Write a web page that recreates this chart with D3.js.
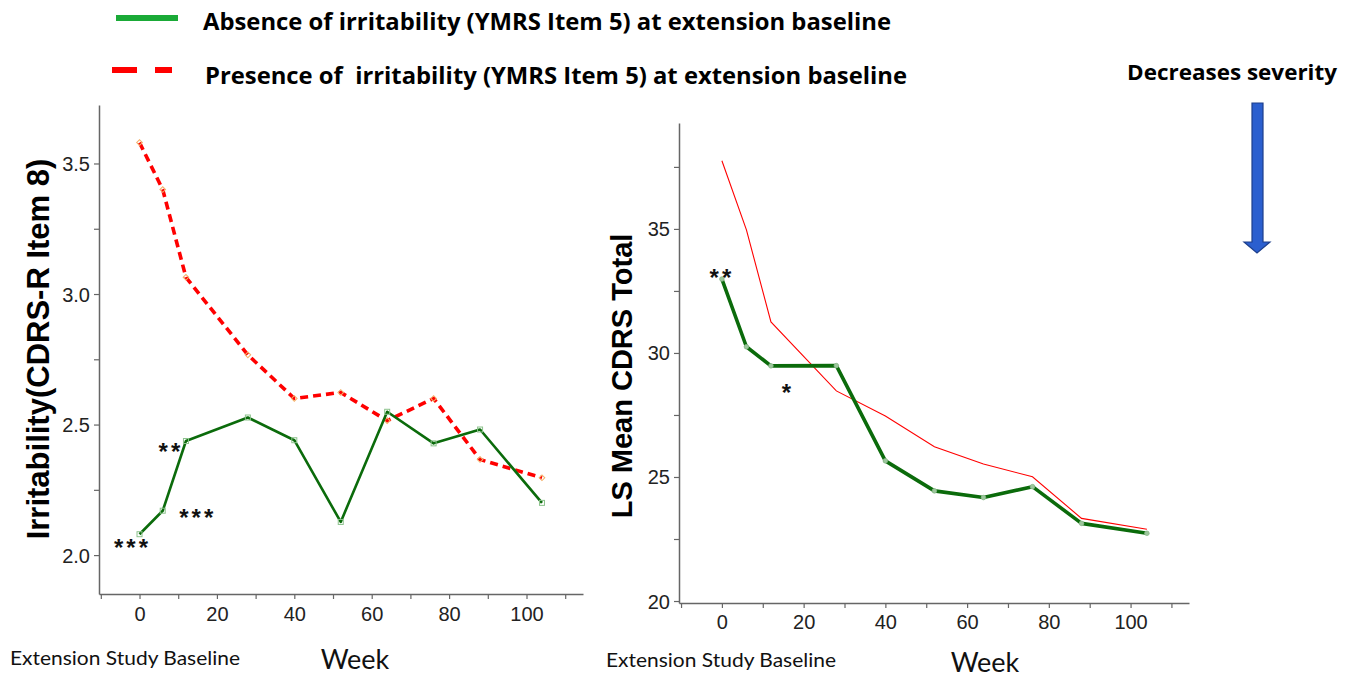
<!DOCTYPE html>
<html><head><meta charset="utf-8">
<script src="https://cdn.jsdelivr.net/npm/d3@7"></script>
<style>
html,body{margin:0;padding:0;background:#fff;}
svg{display:block;}
text{white-space:pre;}
</style></head>
<body><svg id="c" width="1356" height="679"></svg>
<script>
// ---- data ----
const weeks = [0, 6, 12, 28, 40, 52, 64, 76, 88, 104];
const irrAbsent  = [2.08, 2.17, 2.437, 2.527, 2.44, 2.127, 2.549, 2.428, 2.481, 2.20];
const irrPresent = [3.58, 3.40, 3.064, 2.767, 2.60, 2.623, 2.515, 2.60, 2.366, 2.296];
const cdrsAbsent  = [32.98, 30.25, 29.48, 29.49, 25.65, 24.44, 24.17, 24.61, 23.13, 22.73];
const cdrsPresent = [37.75, 34.96, 31.25, 28.47, 27.46, 26.22, 25.52, 25.01, 23.33, 22.89];
const xTickValues = [-10, 0, 10, 20, 30, 40, 50, 60, 70, 80, 90, 100, 110];
const xTickLabels = [0, 20, 40, 60, 80, 100];
const leftYTicks = [2.0, 2.5, 3.0, 3.5];
const leftYMinor = [2.25, 2.75, 3.25];
const rightYTicks = [20, 25, 30, 35];
const rightYMinor = [22.5, 27.5, 32.5, 37.5];
const legendLabels = ["Absence of irritability (YMRS Item 5) at extension baseline",
                      "Presence of  irritability (YMRS Item 5) at extension baseline"];
const leftTitle = "Irritability(CDRS-R Item 8)";
const rightTitle = "LS Mean CDRS Total";
const leftStars = [{w: 0, v: 2.08, t: "***"}, {w: 6, v: 2.17, t: "***"}, {w: 12, v: 2.437, t: "**"}];
const rightStars = [{w: 0, v: 32.98, t: "**"}, {w: 12, v: 29.48, t: "*"}];

const svg = d3.select("#c");
const AX = "#666";
const GREEN = "#0b6b0b";

function drawPanel(o) {
  const g = svg.append("g");
  const x = d3.scaleLinear().domain(o.xDom).range(o.xRange);
  const y = d3.scaleLinear().domain(o.yDom).range(o.yRange);
  // x axis
  const xa = g.append("g").attr("transform", `translate(0,${o.yRange[0]})`)
    .call(d3.axisBottom(x).tickValues(xTickValues).tickSize(5).tickSizeOuter(0)
      .tickFormat(d => xTickLabels.includes(d) ? d : ""));
  xa.select(".domain").attr("stroke", AX).attr("stroke-width", 1.5);
  xa.selectAll(".tick line").attr("stroke", AX).attr("stroke-width", 1.2);
  xa.selectAll(".tick text").attr("font-family", "Liberation Sans, Arial, sans-serif")
    .attr("font-size", 20).attr("fill", "#222").attr("dy", null).attr("y", o.xLabelDy);
  // y axis
  const ya = g.append("g").attr("transform", `translate(${o.xRange[0]},0)`)
    .call(d3.axisLeft(y).tickValues(o.yTicks.concat(o.yMinor)).tickSize(5).tickSizeOuter(0)
      .tickFormat(d => o.yTicks.includes(d) ? o.fmt(d) : ""));
  ya.select(".domain").attr("stroke", AX).attr("stroke-width", 1.5);
  ya.selectAll(".tick line").attr("stroke", AX).attr("stroke-width", 1.2);
  ya.selectAll(".tick text").attr("font-family", "Liberation Sans, Arial, sans-serif")
    .attr("font-size", 20).attr("fill", "#222").attr("x", -9).attr("dy", "0.35em");
  // title
  g.append("text").attr("transform", `translate(${o.titleX},${o.titleY}) rotate(-90)`)
    .attr("text-anchor", "middle").attr("font-family", "Liberation Sans, Arial, sans-serif")
    .attr("font-weight", "bold").attr("font-size", o.titleSize).attr("fill", "#000").text(o.title);
  // lines
  const line = d3.line().x(d => x(d[0])).y(d => y(d[1]));
  const pres = weeks.map((w, i) => [w, o.present[i]]);
  const abs = weeks.map((w, i) => [w, o.absent[i]]);
  g.append("path").datum(pres).attr("d", line).attr("fill", "none")
    .attr("stroke", "#ff0000").attr("stroke-width", o.redW)
    .attr("stroke-dasharray", o.redDash || null);
  if (o.diamonds) {
    g.selectAll(".dm").data(pres).join("path")
      .attr("transform", d => `translate(${x(d[0])},${y(d[1])}) rotate(45)`)
      .attr("d", "M-2,-2H2V2H-2Z").attr("fill", "none").attr("stroke", "#f4b06a").attr("stroke-width", 1);
  }
  g.append("path").datum(abs).attr("d", line).attr("fill", "none")
    .attr("stroke", GREEN).attr("stroke-width", o.greenW).attr("stroke-linejoin", "round");
  if (o.squares) {
    g.selectAll(".sq").data(abs).join("rect")
      .attr("x", d => x(d[0]) - 2.5).attr("y", d => y(d[1]) - 2.5).attr("width", 5).attr("height", 5)
      .attr("fill", "none").attr("stroke", "#8cc28c").attr("stroke-width", 1);
  } else {
    g.selectAll(".ci").data(abs).join("circle")
      .attr("cx", d => x(d[0])).attr("cy", d => y(d[1])).attr("r", 2.3)
      .attr("fill", "#9cc79c").attr("stroke", "#8ab88a").attr("stroke-width", 0.8);
  }
  // stars
  g.selectAll(".st").data(o.stars).join("text")
    .attr("x", (d, i) => x(d.w) + o.starOff[i][0]).attr("y", (d, i) => y(d.v) + o.starOff[i][1])
    .attr("text-anchor", "middle").attr("font-family", "Liberation Sans, Arial, sans-serif")
    .attr("font-weight", "bold").attr("font-size", 24).attr("letter-spacing", 3)
    .attr("fill", "#111").text(d => d.t);
  // bottom texts
  g.append("text").attr("x", o.extX).attr("y", o.extY).attr("font-family", "Lato, Open Sans, sans-serif")
    .attr("font-size", 20).attr("textLength", 230).attr("lengthAdjust", "spacingAndGlyphs")
    .attr("fill", "#111").text("Extension Study Baseline");
  g.append("text").attr("x", o.weekX).attr("y", o.weekY).attr("text-anchor", "middle")
    .attr("font-family", "Lato, Open Sans, sans-serif").attr("font-size", 27)
    .attr("fill", "#111").text("Week");
}

drawPanel({
  xDom: [-10.47, 114.6], xRange: [99, 583],
  yDom: [1.851, 3.724], yRange: [594, 105],
  yTicks: leftYTicks, yMinor: leftYMinor, fmt: d3.format(".1f"),
  xLabelDy: 27, title: leftTitle, titleX: 49, titleY: 349, titleSize: 31,
  present: irrPresent, absent: irrAbsent, redW: 3.6, redDash: "8,5", greenW: 2.6,
  diamonds: true, squares: true,
  stars: leftStars, starOff: [[-7, 22], [35, 15], [-15, 19]],
  extX: 10, extY: 665, weekX: 355, weekY: 669
});

drawPanel({
  xDom: [-10.5, 114.3], xRange: [679, 1189],
  yDom: [19.92, 39.27], yRange: [603, 123],
  yTicks: rightYTicks, yMinor: rightYMinor, fmt: d3.format("d"),
  xLabelDy: 26, title: rightTitle, titleX: 632, titleY: 376, titleSize: 29,
  present: cdrsPresent, absent: cdrsAbsent, redW: 1.1, redDash: null, greenW: 3.6,
  diamonds: false, squares: false,
  stars: rightStars, starOff: [[0, 7], [17, 35]],
  extX: 606, extY: 667, weekX: 985, weekY: 672
});

// legend
const lg = svg.append("g");
lg.append("line").attr("x1", 116).attr("x2", 178).attr("y1", 18).attr("y2", 18)
  .attr("stroke", "#1aaa37").attr("stroke-width", 6);
lg.append("line").attr("x1", 112).attr("x2", 172).attr("y1", 70).attr("y2", 70)
  .attr("stroke", "#ff0000").attr("stroke-width", 6).attr("stroke-dasharray", "25,18");
lg.selectAll(".lt").data(legendLabels).join("text")
  .attr("x", (d, i) => i ? 205 : 203).attr("y", (d, i) => i ? 84 : 30)
  .attr("font-family", "Open Sans, Lato, sans-serif").attr("font-weight", "bold").attr("font-size", 23)
  .attr("textLength", (d, i) => i ? 702 : 688).attr("lengthAdjust", "spacingAndGlyphs")
  .attr("fill", "#000").text(d => d);

// severity arrow
svg.append("text").attr("x", 1127).attr("y", 80).attr("font-family", "Open Sans, Lato, sans-serif")
  .attr("font-weight", "bold").attr("font-size", 21).attr("textLength", 210)
  .attr("lengthAdjust", "spacingAndGlyphs").attr("fill", "#000").text("Decreases severity");
svg.append("path")
  .attr("d", "M1252,103 H1263 V242 H1270 L1257,253 L1244,242 H1252 Z")
  .attr("fill", "#2b5fcf").attr("stroke", "#1d3f8c").attr("stroke-width", 1.2);
</script></body></html>
